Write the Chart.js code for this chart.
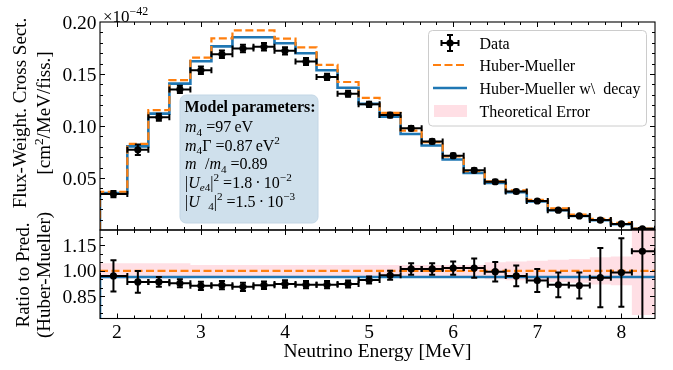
<!DOCTYPE html>
<html>
<head>
<meta charset="utf-8">
<script src="https://cdn.jsdelivr.net/npm/chart.js@4.4.0/dist/chart.umd.min.js"></script>
<style>
  html, body { margin: 0; padding: 0; background: #fff; }
  #wrap { position: relative; width: 673px; height: 370px; }
  canvas { position: absolute; left: 0; top: 0; }
</style>
</head>
<body>
<div id="wrap">
  <canvas id="topChart" width="673" height="370"></canvas>
  <canvas id="bottomChart" width="673" height="370"></canvas>
</div>
<script>
// bins (MeV)
const binEdges = [1.8, 2.125, 2.375, 2.625, 2.875, 3.125, 3.375, 3.625, 3.875, 4.125, 4.375, 4.625, 4.875,
  5.125, 5.375, 5.625, 5.875, 6.125, 6.375, 6.625, 6.875, 7.125, 7.375, 7.625, 7.875, 8.125, 8.4];
const binCenters = [1.96, 2.25, 2.5, 2.75, 3.0, 3.25, 3.5, 3.75, 4.0, 4.25, 4.5, 4.75, 5.0,
  5.25, 5.5, 5.75, 6.0, 6.25, 6.5, 6.75, 7.0, 7.25, 7.5, 7.75, 8.0, 8.25];

// top panel, units of 1e-42 cm^2/MeV/fiss.
const dataXS = [0.0345, 0.0771, 0.1084, 0.1352, 0.1536, 0.1690, 0.1745, 0.1762, 0.1723, 0.1620, 0.1472, 0.1310, 0.1208,
  0.1105, 0.0978, 0.0852, 0.0715, 0.0574, 0.0464, 0.0370, 0.0279, 0.0191, 0.0135, 0.0095, 0.0058, 0.0012];
const dataErr = [0.0030, 0.0050, 0.0033, 0.0034, 0.0035, 0.0036, 0.0036, 0.0036, 0.0035, 0.0034, 0.0030, 0.0028, 0.0025,
  0.0023, 0.0022, 0.0021, 0.0020, 0.0020, 0.0018, 0.0016, 0.0013, 0.0012, 0.0010, 0.0016, 0.0012, 0.0008];
const hmXS = [0.0368, 0.0829, 0.1152, 0.1442, 0.1658, 0.1843, 0.1920, 0.1920, 0.1840, 0.1756, 0.1588, 0.1423, 0.1271,
  0.1126, 0.0955, 0.0845, 0.0707, 0.0565, 0.0468, 0.0381, 0.0291, 0.0207, 0.0149, 0.0107, 0.0068, 0.0013];
const hmDecayXS = [0.0355, 0.0804, 0.1119, 0.1407, 0.1623, 0.1766, 0.1853, 0.1853, 0.1795, 0.1700, 0.1536, 0.1368, 0.1213,
  0.1090, 0.0923, 0.0813, 0.0678, 0.0548, 0.0452, 0.0364, 0.0275, 0.0190, 0.0136, 0.0094, 0.0055, 0.0010];

// bottom panel, ratio to Huber-Mueller
const ratioData = [0.970, 0.935, 0.935, 0.927, 0.912, 0.916, 0.906, 0.916, 0.923, 0.919, 0.919, 0.923, 0.946,
  0.974, 1.011, 1.011, 1.016, 1.016, 0.995, 0.970, 0.943, 0.918, 0.914, 0.960, 0.990, 1.115];
const ratioErr = [0.092, 0.064, 0.029, 0.023, 0.024, 0.024, 0.024, 0.022, 0.022, 0.021, 0.021, 0.021, 0.021,
  0.026, 0.034, 0.034, 0.039, 0.056, 0.057, 0.061, 0.068, 0.073, 0.077, 0.174, 0.201, 0.500];
const ratioHM = [1, 1, 1, 1, 1, 1, 1, 1, 1, 1, 1, 1, 1, 1, 1, 1, 1, 1, 1, 1, 1, 1, 1, 1, 1, 1];
const ratioDecay = [0.964, 0.964, 0.964, 0.964, 0.964, 0.964, 0.964, 0.964, 0.964, 0.964, 0.964, 0.964, 0.964,
  0.964, 0.964, 0.964, 0.964, 0.964, 0.964, 0.964, 0.964, 0.964, 0.964, 0.964, 0.964, 0.964];
const theoryErr = [0.045, 0.045, 0.045, 0.045, 0.035, 0.035, 0.035, 0.035, 0.035, 0.035, 0.035, 0.035, 0.035,
  0.035, 0.035, 0.035, 0.035, 0.035, 0.050, 0.055, 0.060, 0.065, 0.070, 0.080, 0.085, 0.260];

const xTickLabels = [2, 3, 4, 5, 6, 7, 8];
const yTicksTop = ['0.05', '0.10', '0.15', '0.20'];
const yTicksBottom = ['0.85', '1.00', '1.15'];

const FONT = '"Liberation Serif", "DejaVu Serif", serif';
const ORANGE = '#ff7f0e', BLUE = '#1f77b4', PINK = 'rgba(255, 192, 203, 0.5)';

// histogram outline points for a stepped line
function stepPoints(vals, base) {
  const pts = [];
  if (base !== undefined) pts.push({x: binEdges[0], y: base});
  vals.forEach((v, i) => pts.push({x: binEdges[i], y: v}));
  pts.push({x: binEdges[binEdges.length - 1], y: vals[vals.length - 1]});
  return pts;
}

function pointsOf(ys) {
  return binCenters.map((c, i) => ({x: c, y: ys[i]}));
}

function font(size, style) {
  return (style || '') + ' ' + size + 'px ' + FONT;
}

// text with sub/superscripts
function drawRich(ctx, x, y, parts, size) {
  parts.forEach(p => {
    const small = p.sub || p.sup;
    const fs = small ? size * 0.7 : size;
    ctx.font = font(fs, (p.b ? 'bold ' : '') + (p.i ? 'italic ' : ''));
    const dy = p.sub ? size * 0.22 : (p.sup ? -size * 0.38 : 0);
    ctx.fillText(p.t, x, y + dy);
    x += ctx.measureText(p.t).width;
  });
  return x;
}

function roundRect(ctx, x, y, w, h, r) {
  ctx.beginPath();
  ctx.moveTo(x + r, y);
  ctx.arcTo(x + w, y, x + w, y + h, r);
  ctx.arcTo(x + w, y + h, x, y + h, r);
  ctx.arcTo(x, y + h, x, y, r);
  ctx.arcTo(x, y, x + w, y, r);
  ctx.closePath();
}

function errorBarPlugin(name, ys, errs) {
  return {
    id: 'err_' + name,
    afterDatasetsDraw(chart) {
      const {ctx, chartArea: a, scales: {x, y}} = chart;
      ctx.save();
      ctx.beginPath();
      ctx.rect(a.left, a.top, a.right - a.left, a.bottom - a.top);
      ctx.clip();
      ctx.strokeStyle = '#000';
      ctx.lineWidth = 2;
      const cap = 3;
      binCenters.forEach((c, i) => {
        const px = x.getPixelForValue(c), py = y.getPixelForValue(ys[i]);
        const x0 = x.getPixelForValue(binEdges[i]), x1 = x.getPixelForValue(binEdges[i + 1]);
        const y0 = y.getPixelForValue(ys[i] - errs[i]), y1 = y.getPixelForValue(ys[i] + errs[i]);
        ctx.beginPath();
        ctx.moveTo(x0, py); ctx.lineTo(x1, py);
        ctx.moveTo(px, y0); ctx.lineTo(px, y1);
        ctx.moveTo(x0, py - cap); ctx.lineTo(x0, py + cap);
        ctx.moveTo(x1, py - cap); ctx.lineTo(x1, py + cap);
        ctx.moveTo(px - cap, y0); ctx.lineTo(px + cap, y0);
        ctx.moveTo(px - cap, y1); ctx.lineTo(px + cap, y1);
        ctx.stroke();
      });
      ctx.restore();
    }
  };
}

// frame + inward ticks
function axesPlugin(name, yMinorStep, yMinorFrom, yMinorTo, isMajorY) {
  return {
    id: 'axes_' + name,
    afterDraw(chart) {
      const {ctx, chartArea: a, scales: {x, y}} = chart;
      ctx.save();
      ctx.strokeStyle = '#000';
      ctx.lineWidth = 1;
      const seg = (x0, y0, x1, y1) => { ctx.beginPath(); ctx.moveTo(x0, y0); ctx.lineTo(x1, y1); ctx.stroke(); };
      for (let k = 9; k <= 42; k++) {
        const px = Math.round(x.getPixelForValue(k * 0.2)) + 0.5;
        if (px <= a.left + 1 || px >= a.right - 1) continue;
        const len = k % 5 === 0 ? 5 : 3;
        seg(px, a.bottom, px, a.bottom - len);
        seg(px, a.top, px, a.top + len);
      }
      for (let k = yMinorFrom; k <= yMinorTo; k++) {
        const py = Math.round(y.getPixelForValue(k * yMinorStep)) + 0.5;
        if (py <= a.top + 1 || py >= a.bottom - 1) continue;
        const len = isMajorY(k) ? 5 : 3;
        seg(a.left, py, a.left + len, py);
        seg(a.right, py, a.right - len, py);
      }
      ctx.lineWidth = 1.1;
      ctx.strokeRect(a.left, a.top, a.right - a.left, a.bottom - a.top);
      ctx.restore();
    }
  };
}

const topTextPlugin = {
  id: 'topText',
  afterDraw(chart) {
    const {ctx, scales: {y}} = chart;
    ctx.save();
    ctx.fillStyle = '#000';
    // y tick labels
    ctx.font = font(19.5);
    ctx.textAlign = 'right';
    yTicksTop.forEach(t => ctx.fillText(t, 96.5, y.getPixelForValue(parseFloat(t)) + 6.5));
    // offset text
    ctx.textAlign = 'left';
    drawRich(ctx, 103, 21.5, [{t: '\u00d7'}, {t: '10'}, {t: '\u221242', sup: true}], 17);
    // y title
    ctx.save();
    ctx.translate(0, 113);
    ctx.rotate(-Math.PI / 2);
    ctx.textAlign = 'center';
    ctx.font = font(19);
    ctx.fillText('Flux-Weight. Cross Sect.', 0, 26);
    const w = ctx.measureText('[cm/MeV/fiss.]').width + 19 * 0.35;
    ctx.textAlign = 'left';
    drawRich(ctx, -w / 2, 50, [{t: '[cm'}, {t: '2', sup: true}, {t: '/MeV/fiss.]'}], 19);
    ctx.restore();

    // model parameters box
    ctx.fillStyle = '#cfe0ec';
    roundRect(ctx, 180, 95, 138, 128, 6);
    ctx.fill();
    ctx.strokeStyle = '#c3d6e5';
    ctx.lineWidth = 1;
    ctx.stroke();
    ctx.fillStyle = '#000';
    ctx.font = font(16, 'bold');
    ctx.fillText('Model parameters:', 184.5, 111.5);
    const fs = 16;
    drawRich(ctx, 185, 132, [{t: 'm', i: true}, {t: '4', sub: true}, {t: ' =97\u2009eV'}], fs);
    drawRich(ctx, 185, 150.5, [{t: 'm', i: true}, {t: '4', sub: true}, {t: '\u0393 =0.87\u2009eV'}, {t: '2', sup: true}], fs);
    drawRich(ctx, 185, 169, [{t: 'm', i: true}, {t: '   ', sub: true}, {t: '/'}, {t: 'm', i: true}, {t: '4', sub: true}, {t: ' =0.89'}], fs);
    drawRich(ctx, 185, 187.5, [{t: '|'}, {t: 'U', i: true}, {t: 'e', i: true, sub: true}, {t: '4', sub: true}, {t: '|'},
      {t: '2', sup: true}, {t: ' =1.8\u2009\u00b7\u200910'}, {t: '\u22122', sup: true}], fs);
    drawRich(ctx, 185, 206.5, [{t: '|'}, {t: 'U', i: true}, {t: '   4', sub: true}, {t: '|'},
      {t: '2', sup: true}, {t: ' =1.5\u2009\u00b7\u200910'}, {t: '\u22123', sup: true}], fs);

    // legend
    ctx.fillStyle = 'rgba(255,255,255,0.85)';
    roundRect(ctx, 428.5, 30.5, 218, 95.5, 4);
    ctx.fill();
    ctx.strokeStyle = '#cccccc';
    ctx.stroke();
    // data handle
    ctx.strokeStyle = '#000';
    ctx.lineWidth = 2;
    ctx.beginPath();
    ctx.moveTo(441.5, 43); ctx.lineTo(458.5, 43);
    ctx.moveTo(450, 35); ctx.lineTo(450, 51);
    ctx.moveTo(441.5, 40); ctx.lineTo(441.5, 46);
    ctx.moveTo(458.5, 40); ctx.lineTo(458.5, 46);
    ctx.moveTo(447, 35); ctx.lineTo(453, 35);
    ctx.moveTo(447, 51); ctx.lineTo(453, 51);
    ctx.stroke();
    ctx.fillStyle = '#000';
    ctx.beginPath(); ctx.arc(450, 43, 3.6, 0, Math.PI * 2); ctx.fill();
    // HM handle
    ctx.strokeStyle = ORANGE;
    ctx.lineWidth = 2.2;
    ctx.setLineDash([8, 3.5]);
    ctx.beginPath(); ctx.moveTo(433, 65); ctx.lineTo(467, 65); ctx.stroke();
    ctx.setLineDash([]);
    ctx.strokeStyle = BLUE;
    ctx.lineWidth = 2.6;
    ctx.beginPath(); ctx.moveTo(433, 88); ctx.lineTo(467, 88); ctx.stroke();
    ctx.fillStyle = PINK;
    ctx.fillRect(434, 105, 33, 12);
    ctx.fillStyle = '#000';
    ctx.font = font(16);
    ctx.fillText('Data', 479.5, 48.5);
    ctx.fillText('Huber-Mueller', 479.5, 70.5);
    ctx.fillText('Huber-Mueller w\\  decay', 479.5, 94);
    ctx.fillText('Theoretical Error', 479.5, 116.5);
    ctx.restore();
  }
};

const bottomTextPlugin = {
  id: 'bottomText',
  afterDraw(chart) {
    const {ctx, scales: {x, y}} = chart;
    ctx.save();
    ctx.fillStyle = '#000';
    ctx.font = font(19.5);
    ctx.textAlign = 'right';
    yTicksBottom.forEach(t => ctx.fillText(t, 96.5, y.getPixelForValue(parseFloat(t)) + 6.5));
    ctx.textAlign = 'center';
    xTickLabels.forEach(t => ctx.fillText(String(t), x.getPixelForValue(t), 337.5));
    ctx.fillText('Neutrino Energy [MeV]', 377.5, 357);
    ctx.save();
    ctx.translate(0, 275);
    ctx.rotate(-Math.PI / 2);
    ctx.font = font(19);
    ctx.fillText('Ratio to Pred.', 0, 29);
    ctx.fillText('(Huber-Mueller)', 0, 50);
    ctx.restore();
    ctx.restore();
  }
};

function lineSet(points, color, width, dash) {
  return {
    data: points, borderColor: color, borderWidth: width, borderDash: dash || [],
    stepped: 'before', pointRadius: 0, fill: false, clip: 0
  };
}

function bandSets(upper, lower) {
  return [
    {data: stepPoints(upper), stepped: 'before', pointRadius: 0, borderWidth: 0,
      borderColor: 'rgba(0,0,0,0)', backgroundColor: PINK, fill: '+1', clip: 0},
    {data: stepPoints(lower), stepped: 'before', pointRadius: 0, borderWidth: 0,
      borderColor: 'rgba(0,0,0,0)', fill: false, clip: 0}
  ];
}

function pointSet(ys) {
  return {
    data: pointsOf(ys), showLine: false, pointStyle: 'circle', pointRadius: 3.6, pointHoverRadius: 3.6,
    pointBackgroundColor: '#000', pointBorderWidth: 0, borderColor: '#000', clip: 0
  };
}

function baseOptions(padding, yMin, yMax) {
  return {
    responsive: false,
    animation: false,
    events: [],
    layout: {padding: padding},
    plugins: {legend: {display: false}, tooltip: {enabled: false}},
    scales: {
      x: {type: 'linear', min: 1.8, max: 8.4, display: false},
      y: {type: 'linear', min: yMin, max: yMax, display: false}
    }
  };
}

new Chart(document.getElementById('topChart').getContext('2d'), {
  type: 'line',
  data: {
    datasets: [
      pointSet(dataXS),
      lineSet(stepPoints(hmXS, 0), ORANGE, 2.2, [8, 3.5]),
      lineSet(stepPoints(hmDecayXS, 0), BLUE, 2.6)
    ]
  },
  options: baseOptions({left: 100, right: 18, top: 22, bottom: 140}, 0, 0.2),
  plugins: [
    errorBarPlugin('top', dataXS, dataErr),
    axesPlugin('top', 0.01, 0, 20, k => k % 5 === 0),
    topTextPlugin
  ]
});

new Chart(document.getElementById('bottomChart').getContext('2d'), {
  type: 'line',
  data: {
    datasets: [
      pointSet(ratioData),
      lineSet(stepPoints(ratioHM), ORANGE, 2.2, [8, 3.5]),
      lineSet(stepPoints(ratioDecay, 0), BLUE, 2.6),
      ...bandSets(ratioHM.map((v, i) => v + theoryErr[i]), ratioHM.map((v, i) => v - theoryErr[i]))
    ]
  },
  options: baseOptions({left: 100, right: 18, top: 230, bottom: 51.5}, 0.72, 1.24),
  plugins: [
    errorBarPlugin('bottom', ratioData, ratioErr),
    axesPlugin('bottom', 0.05, 15, 24, k => (k - 17) % 3 === 0),
    bottomTextPlugin
  ]
});
</script>
</body>
</html>
